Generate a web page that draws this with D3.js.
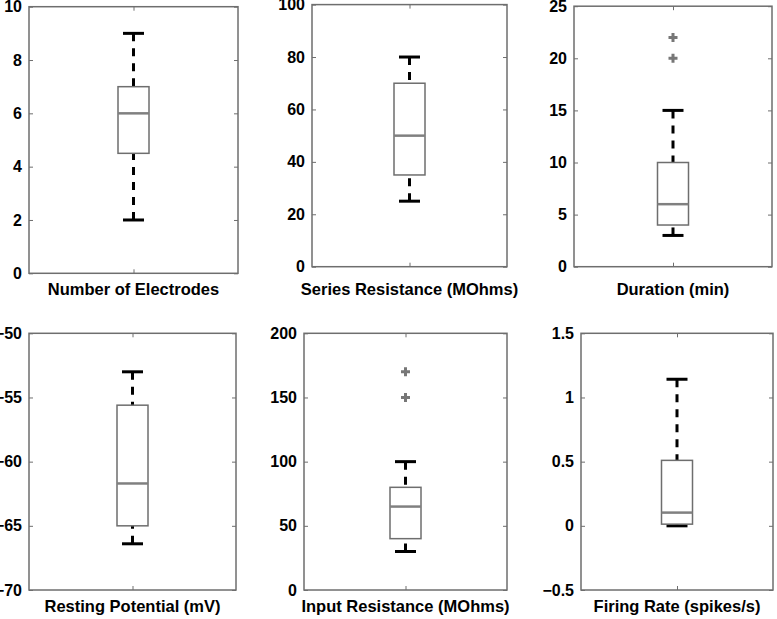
<!DOCTYPE html>
<html><head><meta charset="utf-8">
<script src="https://cdn.jsdelivr.net/npm/d3@7"></script>
<style>
body{margin:0;background:#fff;}
text{font-family:"Liberation Sans",Arial,Helvetica,sans-serif;font-weight:bold;fill:#000;}
</style></head>
<body>
<svg id="c" width="777" height="619"></svg>
<script>
const labels = ["Number of Electrodes","Series Resistance (MOhms)","Duration (min)","Resting Potential (mV)","Input Resistance (MOhms)","Firing Rate (spikes/s)"];
const mins    = [2, 25, 3, -66.4, 30, 0];
const q1s     = [4.5, 35, 4, -65, 40, 0.013];
const medians = [6, 50, 6, -61.7, 65, 0.103];
const q3s     = [7, 70, 10, -55.6, 80, 0.51];
const maxs    = [9, 80, 15, -53, 100, 1.142];
const outliers = [[], [], [20, 22], [], [150, 170], []];
const yDomains = [[0,10],[0,100],[0,25],[-70,-50],[0,200],[-0.5,1.5]];
const yTicks = [[0,2,4,6,8,10],[0,20,40,60,80,100],[0,5,10,15,20,25],[-70,-65,-60,-55,-50],[0,50,100,150,200],[-0.5,0,0.5,1,1.5]];

// panel frames (layout)
const frames = [
  {x0:29, x1:238, y0:6.7, y1:273.3, ly:295},
  {x0:312, x1:507, y0:4.6, y1:266.7, ly:295},
  {x0:574, x1:772, y0:6.2, y1:266.7, ly:295},
  {x0:29, x1:236, y0:333.3, y1:590, ly:612},
  {x0:304, x1:507, y0:333.3, y1:590, ly:612},
  {x0:581, x1:773, y0:333.3, y1:590, ly:612}
];
const svg = d3.select("#c");
const gray = "#6e6e6e";

labels.forEach((lab,i)=>{
  const f = frames[i];
  const y = d3.scaleLinear().domain(yDomains[i]).range([f.y1, f.y0]);
  const x = d3.scalePoint().domain([lab]).range([f.x0, f.x1]).padding(0.5);
  const g = svg.append("g");
  const cx = x(lab);
  const fmt = d => d3.format("")(d);
  // left axis
  const la = g.append("g").attr("transform",`translate(${f.x0},0)`)
    .call(d3.axisLeft(y).tickValues(yTicks[i]).tickSizeInner(-4).tickSizeOuter(0).tickPadding(7).tickFormat(fmt));
  la.selectAll("text").style("font-size","16px").style("font-family",'"Liberation Sans",Arial,sans-serif').style("font-weight","bold").attr("fill","#000");
  // right axis ticks
  const ra = g.append("g").attr("transform",`translate(${f.x1},0)`)
    .call(d3.axisRight(y).tickValues(yTicks[i]).tickSizeInner(-4).tickSizeOuter(0).tickFormat(""));
  // bottom/top ticks
  const ba = g.append("g").attr("transform",`translate(0,${f.y1})`)
    .call(d3.axisBottom(x).tickSizeInner(-4).tickSizeOuter(0).tickFormat(""));
  const ta = g.append("g").attr("transform",`translate(0,${f.y0})`)
    .call(d3.axisTop(x).tickSizeInner(-4).tickSizeOuter(0).tickFormat(""));
  [la,ra,ba,ta].forEach(a=>{ a.select(".domain").remove(); a.selectAll("line").attr("stroke",gray).attr("stroke-width",1); });
  // frame
  g.append("rect").attr("x",f.x0).attr("y",f.y0).attr("width",f.x1-f.x0).attr("height",f.y1-f.y0)
    .attr("fill","none").attr("stroke",gray).attr("stroke-width",1.5);
  const bw = 31, cw = 21;
  // whiskers
  g.append("line").attr("x1",cx).attr("x2",cx).attr("y1",y(maxs[i])).attr("y2",y(q3s[i]))
    .attr("stroke","#000").attr("stroke-width",3).attr("stroke-dasharray","8,7");
  g.append("line").attr("x1",cx).attr("x2",cx).attr("y1",y(mins[i])).attr("y2",y(q1s[i]))
    .attr("stroke","#000").attr("stroke-width",3).attr("stroke-dasharray","8,7");
  [maxs[i],mins[i]].forEach(v=>{
    g.append("line").attr("x1",cx-cw/2).attr("x2",cx+cw/2).attr("y1",y(v)).attr("y2",y(v))
      .attr("stroke","#000").attr("stroke-width",3);
  });
  // box
  g.append("rect").attr("x",cx-bw/2).attr("y",y(q3s[i])).attr("width",bw).attr("height",y(q1s[i])-y(q3s[i]))
    .attr("fill","none").attr("stroke",gray).attr("stroke-width",1.5);
  g.append("line").attr("x1",cx-bw/2).attr("x2",cx+bw/2).attr("y1",y(medians[i])).attr("y2",y(medians[i]))
    .attr("stroke","#808080").attr("stroke-width",2.5);
  // outliers
  outliers[i].forEach(v=>{
    g.append("path").attr("d",`M${cx-4.5},${y(v)}H${cx+4.5}M${cx},${y(v)-4.5}V${y(v)+4.5}`)
      .attr("stroke","#777").attr("stroke-width",3).attr("fill","none");
  });
  g.append("text").attr("x",(f.x0+f.x1)/2).attr("y",f.ly).attr("text-anchor","middle")
    .style("font-size","16.5px").text(lab);
});
</script>
</body></html>
